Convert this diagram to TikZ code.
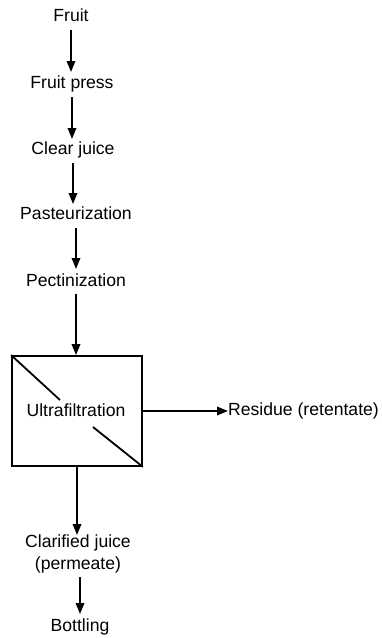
\documentclass[tikz,border=0pt]{standalone}
\usepackage{fontspec}
\setmainfont{Liberation Sans}
\usetikzlibrary{arrows.meta}
\begin{document}
\begin{tikzpicture}[x=1pt,y=-1pt,
  txt/.style={font=\fontsize{17.6}{22}\selectfont, inner sep=0pt},
  lbl/.style={txt, text height=12.6pt, text depth=3.7pt},
  flow/.style={line width=1.8pt, -{Triangle[length=11pt,width=8.5pt]}},
  boxline/.style={line width=1.8pt}]
\useasboundingbox (0,0) rectangle (381,638);
\node[lbl] (fruit) at (71,17) {Fruit};
\node[lbl] (press) at (72,84) {Fruit press};
\node[lbl] (clear) at (73,150) {Clear juice};
\node[lbl] (past) at (76,215) {Pasteurization};
\node[lbl] (pect) at (76,282) {Pectinization};
\node[draw, boxline, minimum width=130pt, minimum height=110pt, inner sep=0pt] (uf) at (77,411) {};
\node[lbl] (uftext) at (76,412) {Ultrafiltration};
\draw[boxline] (uf.north west) -- (60,400);
\draw[boxline] (93,427) -- (uf.south east);
\node[lbl, anchor=west] (res) at (228,411) {Residue (retentate)};
\node[txt, align=center, anchor=north] (clar) at (78,535) {Clarified juice\\(permeate)};
\node[lbl] (bott) at (80,627) {Bottling};
\draw[flow] (fruit.south |- 0,30) -- (fruit.south |- 0,72);
\draw[flow] (press.south |- 0,97) -- (press.south |- 0,139);
\draw[flow] (clear.south |- 0,163) -- (clear.south |- 0,204);
\draw[flow] (past.south |- 0,228) -- (past.south |- 0,269);
\draw[flow] (pect.south |- 0,294) -- (pect.south |- uf.north);
\draw[flow] (uf.south) -- (uf.south |- clar.north);
\draw[flow] (bott.north |- 0,577) -- (bott.north |- 0,614);
\draw[flow] (uf.east) -- (uf.east -| res.west);
\end{tikzpicture}
\end{document}
